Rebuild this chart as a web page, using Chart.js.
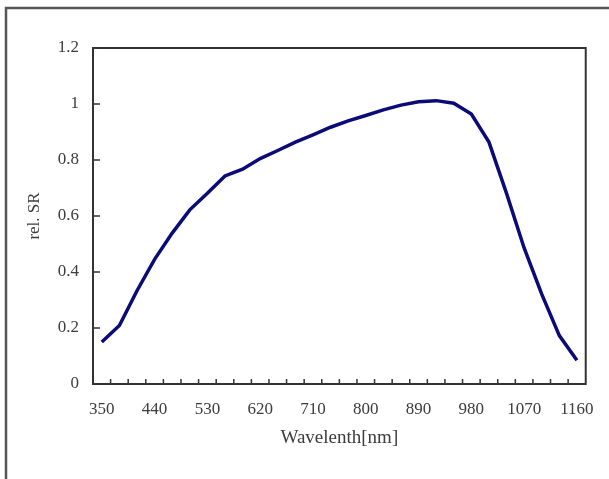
<!DOCTYPE html>
<html>
<head>
<meta charset="utf-8">
<title>rel. SR</title>
<script src="https://cdn.jsdelivr.net/npm/chart.js@4/dist/chart.umd.min.js"></script>
<style>
  html, body { margin: 0; padding: 0; background: #fff; }
  #wrap { width: 609px; height: 479px; position: relative; }
</style>
</head>
<body>
<div id="wrap"><canvas id="srChart"></canvas></div>
<script>
// ==========================================
// Data
// ==========================================
const wavelengths = [
  350, 380, 410, 440, 470, 500, 530, 560, 590, 620, 650, 680, 710, 740,
  770, 800, 830, 860, 890, 920, 950, 980, 1010, 1040, 1070, 1100, 1130, 1160
];
const relSR = [
  0.150, 0.209, 0.333, 0.445, 0.539, 0.622, 0.681, 0.743, 0.767, 0.805, 0.834, 0.864, 0.890, 0.917,
  0.940, 0.959, 0.979, 0.996, 1.008, 1.012, 1.003, 0.964, 0.864, 0.681, 0.486, 0.321, 0.173, 0.085
];
const yTickValues = [0, 0.2, 0.4, 0.6, 0.8, 1, 1.2];
const xLabelEvery = 3;

const FONT = '"Liberation Serif", "DejaVu Serif", serif';
const TEXT = '#3c3c3c';
const AXIS = '#333';

// frame, plot border and inward tick marks
const framePlugin = {
  id: 'frame',
  beforeDraw(chart) {
    const { ctx, width, height } = chart;
    ctx.save();
    ctx.strokeStyle = '#555';
    ctx.lineWidth = 2.5;
    ctx.beginPath();
    ctx.moveTo(6, height);
    ctx.lineTo(6, 8);
    ctx.lineTo(width, 8);
    ctx.stroke();
    ctx.restore();
  },
  afterDraw(chart) {
    const { ctx, chartArea: a } = chart;
    const x = chart.scales.x, y = chart.scales.y;
    ctx.save();
    ctx.strokeStyle = AXIS;
    ctx.lineWidth = 2;
    ctx.strokeRect(a.left, a.top, a.right - a.left, a.bottom - a.top);
    ctx.lineWidth = 1.5;
    ctx.beginPath();
    // y ticks pointing right
    y.ticks.forEach(t => {
      const py = y.getPixelForValue(t.value);
      ctx.moveTo(a.left, py);
      ctx.lineTo(a.left + 7, py);
    });
    // x ticks between categories pointing up
    for (let i = 0; i < wavelengths.length - 1; i++) {
      const px = (x.getPixelForValue(i) + x.getPixelForValue(i + 1)) / 2;
      ctx.moveTo(px, a.bottom);
      ctx.lineTo(px, a.bottom - 5);
    }
    ctx.stroke();
    ctx.restore();
  }
};

const ctx = document.getElementById('srChart').getContext('2d');
new Chart(ctx, {
  type: 'line',
  data: {
    labels: wavelengths,
    datasets: [{
      label: 'rel. SR',
      data: relSR,
      borderColor: '#0b0b78',
      borderWidth: 3.5,
      pointRadius: 0,
      tension: 0,
      fill: false
    }]
  },
  options: {
    responsive: true,
    maintainAspectRatio: false,
    animation: false,
    layout: { padding: { left: 14, top: 48, right: 22, bottom: 30 } },
    plugins: {
      legend: { display: false },
      tooltip: { enabled: false }
    },
    scales: {
      x: {
        type: 'category',
        offset: true,
        grid: { display: false, drawTicks: false },
        border: { display: false },
        afterFit(scale) { scale.height = 65; },
        ticks: {
          autoSkip: false,
          maxRotation: 0,
          padding: 15,
          color: TEXT,
          font: { family: FONT, size: 17 },
          callback(val, i) { return i % xLabelEvery === 0 ? wavelengths[i] : ''; }
        },
        title: {
          display: true,
          text: 'Wavelenth[nm]',
          color: TEXT,
          font: { family: FONT, size: 19 },
          padding: 0
        }
      },
      y: {
        min: 0,
        max: 1.2,
        grid: { display: false, drawTicks: false },
        border: { display: false },
        afterFit(scale) { scale.width = 79; },
        afterBuildTicks(scale) { scale.ticks = yTickValues.map(v => ({ value: v })); },
        ticks: {
          padding: 14,
          color: TEXT,
          font: { family: FONT, size: 17 },
          callback(val) { return String(Math.round(val * 10) / 10); }
        },
        title: {
          display: true,
          text: 'rel. SR',
          color: TEXT,
          font: { family: FONT, size: 17 },
          padding: { top: 10, bottom: 0 }
        }
      }
    }
  },
  plugins: [framePlugin]
});
</script>
</body>
</html>
